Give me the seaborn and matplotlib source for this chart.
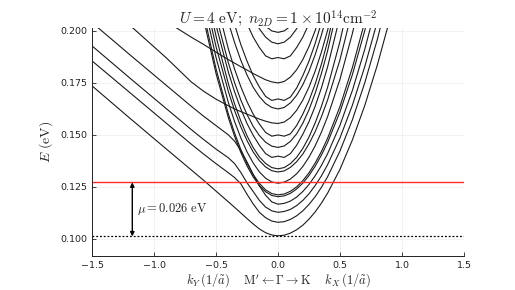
import numpy as np
import pandas as pd
import matplotlib
matplotlib.use("Agg")
import matplotlib.pyplot as plt
import seaborn as sns

# k (1/a~): negative side = k_Y (Gamma -> M'), positive side = k_X (Gamma -> K)
k_grid = [-1.5, -1.2, -0.9, -0.7, -0.6, -0.5, -0.4, -0.35, -0.3, -0.25, -0.2, -0.15, -0.1, -0.05,
          0.0, 0.05, 0.1, 0.15, 0.2, 0.25, 0.3, 0.35, 0.4, 0.5, 0.6, 0.7, 0.8, 0.9]

na = None

# energias das subbandas (eV), uma lista por banda
band_00 = [0.1736, 0.1583, 0.1432, 0.1332, 0.1282, 0.1230, 0.1178, 0.1152, 0.1125, 0.1098, 0.1072, 0.1048, 0.1030, 0.1019,
           0.1015, 0.1018, 0.1028, 0.1044, 0.1066, 0.1095, 0.1130, 0.1172, 0.1220, 0.1335, 0.1476, 0.1642, 0.1834, 0.2052]
band_01 = [0.1856, 0.1706, 0.1556, 0.1456, 0.1408, 0.1362, 0.1318, 0.1295, 0.1265, 0.1215, 0.1168, 0.1128, 0.1102, 0.1086,
           0.1080, 0.1083, 0.1094, 0.1111, 0.1135, 0.1166, 0.1203, 0.1248, 0.1299, 0.1423, 0.1573, 0.1751, 0.1957, 0.2190]
band_02 = [0.1928, 0.1776, 0.1626, 0.1526, 0.1478, 0.1432, 0.1390, 0.1362, 0.1320, 0.1270, 0.1228, 0.1185, 0.1153, 0.1135,
           0.1128, 0.1132, 0.1142, 0.1160, 0.1185, 0.1217, 0.1257, 0.1303, 0.1357, 0.1486, 0.1643, 0.1829, 0.2043, na]
band_03 = [0.2040, 0.1888, 0.1738, 0.1638, 0.1590, 0.1545, 0.1500, 0.1470, 0.1425, 0.1370, 0.1310, 0.1255, 0.1210, 0.1178,
           0.1167, 0.1171, 0.1182, 0.1201, 0.1228, 0.1262, 0.1304, 0.1353, 0.1410, 0.1547, 0.1714, 0.1912, 0.2140, na]
band_04 = [na, na, na, na, 0.2056, 0.1796, 0.1582, 0.1493, 0.1416, 0.1351, 0.1298, 0.1256, 0.1227, 0.1209,
           0.1203, 0.1207, 0.1219, 0.1240, 0.1268, 0.1305, 0.1350, 0.1403, 0.1464, 0.1611, 0.1790, 0.2002, 0.2246, na]
band_05 = [na, na, na, na, 0.2085, 0.1818, 0.1600, 0.1509, 0.1430, 0.1364, 0.1309, 0.1267, 0.1236, 0.1218,
           0.1212, 0.1216, 0.1229, 0.1250, 0.1280, 0.1318, 0.1365, 0.1420, 0.1484, 0.1637, 0.1824, 0.2045, na, na]
band_06 = [na, na, na, na, 0.2139, 0.1873, 0.1655, 0.1564, 0.1486, 0.1419, 0.1365, 0.1322, 0.1292, 0.1274,
           0.1268, 0.1273, 0.1288, 0.1313, 0.1348, 0.1393, 0.1448, 0.1513, 0.1588, 0.1768, 0.1988, 0.2248, na, na]
band_07 = [na, na, na, na, 0.2190, 0.1925, 0.1708, 0.1617, 0.1539, 0.1473, 0.1418, 0.1376, 0.1346, 0.1328,
           0.1322, 0.1327, 0.1344, 0.1371, 0.1408, 0.1457, 0.1516, 0.1587, 0.1668, 0.1862, 0.2100, na, na, na]
band_08 = [na, na, na, na, 0.2255, 0.1975, 0.1745, 0.1649, 0.1567, 0.1496, 0.1439, 0.1394, 0.1363, 0.1343,
           0.1337, 0.1343, 0.1362, 0.1392, 0.1435, 0.1490, 0.1558, 0.1637, 0.1729, 0.1950, 0.2219, na, na, na]
band_09 = [na, na, na, na, na, 0.2028, 0.1801, 0.1707, 0.1625, 0.1555, 0.1498, 0.1450, 0.1410, 0.1392,
           0.1398, 0.1392, 0.1410, 0.1450, 0.1503, 0.1564, 0.1638, 0.1726, 0.1827, 0.2070, na, na, na, na]
band_10 = [na, na, na, na, na, 0.2074, 0.1846, 0.1751, 0.1668, 0.1598, 0.1541, 0.1497, 0.1465, 0.1446,
           0.1440, 0.1447, 0.1469, 0.1505, 0.1556, 0.1621, 0.1701, 0.1795, 0.1904, 0.2165, na, na, na, na]
band_11 = [na, na, na, na, na, 0.2145, 0.1913, 0.1816, 0.1732, 0.1660, 0.1600, 0.1552, 0.1512, 0.1494,
           0.1500, 0.1494, 0.1505, 0.1545, 0.1600, 0.1665, 0.1745, 0.1840, 0.1950, 0.2220, na, na, na, na]
band_12 = [na, 0.2030, 0.1870, 0.1755, 0.1710, 0.1672, 0.1640, 0.1625, 0.1612, 0.1600, 0.1588, 0.1576, 0.1566, 0.1558,
           0.1555, 0.1562, 0.1583, 0.1618, 0.1667, 0.1730, 0.1807, 0.1898, 0.2003, 0.2255, na, na, na, na]
band_13 = [na, na, na, na, na, na, 0.2041, 0.1944, 0.1859, 0.1788, 0.1729, 0.1684, 0.1651, 0.1632,
           0.1625, 0.1632, 0.1654, 0.1690, 0.1741, 0.1806, 0.1886, 0.1980, 0.2089, na, na, na, na, na]
band_14 = [na, na, na, na, na, na, na, 0.2030, 0.1935, 0.1855, 0.1785, 0.1730, 0.1685, 0.1666,
           0.1673, 0.1666, 0.1682, 0.1725, 0.1785, 0.1855, 0.1940, 0.2040, na, na, na, na, na, na]
band_15 = [na, na, 0.2045, 0.1970, 0.1935, 0.1898, 0.1862, 0.1845, 0.1828, 0.1812, 0.1795, 0.1780, 0.1765, 0.1755,
           0.1750, 0.1757, 0.1778, 0.1813, 0.1862, 0.1925, 0.2002, 0.2093, na, na, na, na, na, na]
band_16 = [na, na, na, na, na, na, na, na, na, 0.2035, 0.1970, 0.1920, 0.1880, 0.1866,
           0.1872, 0.1866, 0.1880, 0.1920, 0.1970, 0.2035, na, na, na, na, na, na, na, na]
band_17 = [na, na, na, na, na, na, na, na, na, na, 0.2066, 0.2010, 0.1970, 0.1946,
           0.1938, 0.1946, 0.1970, 0.2010, 0.2066, na, na, na, na, na, na, na, na, na]
band_18 = [na, na, na, na, na, na, na, na, na, na, na, na, 0.2022, 0.2000,
           0.1993, 0.2000, 0.2022, na, na, na, na, na, na, na, na, na, na, na]

bands = [band_00, band_01, band_02, band_03, band_04, band_05, band_06, band_07, band_08, band_09,
         band_10, band_11, band_12, band_13, band_14, band_15, band_16, band_17, band_18]

# potencial quimico
e_bottom = 0.1012
e_fermi = 0.1272
mu_text = r"$\mu = 0.026\ \mathrm{eV}$"
arrow_k = -1.175

title = r"$U = 4\ \mathrm{eV};\ n_{2D} = 1\times 10^{14}\mathrm{cm}^{-2}$"
xlabel = r"$k_Y\,(1/\tilde{a})\quad\ \mathrm{M}'\leftarrow\Gamma\rightarrow\mathrm{K}\quad\ k_X\,(1/\tilde{a})$"
ylabel = r"$E\ (\mathrm{eV})$"
xticks = [-1.5, -1.0, -0.5, 0.0, 0.5, 1.0, 1.5]
yticks = [0.100, 0.125, 0.150, 0.175, 0.200]

rows = []
for i, vals in enumerate(bands):
    for k, e in zip(k_grid, vals):
        rows.append({"band": i, "k": k, "E": np.nan if e is None else e})
df = pd.DataFrame(rows)

sns.set_style("white")
plt.rcParams["mathtext.fontset"] = "cm"
plt.rcParams["font.family"] = ["DejaVu Sans"]

fig = plt.figure(figsize=(5.15, 2.90), dpi=100)
ax = fig.add_axes([92 / 515, 34 / 290, 372 / 515, 228 / 290])

sns.lineplot(data=df, x="k", y="E", units="band", estimator=None, sort=True,
             color="#1a1a1a", lw=0.8, legend=False, ax=ax)

ax.axhline(e_fermi, color="#ff2a2a", lw=1.0)
ax.axhline(e_bottom, color="k", lw=0.9, ls=(0, (1.5, 1.5)))
ax.annotate("", xy=(arrow_k, e_bottom), xytext=(arrow_k, e_fermi),
            arrowprops=dict(arrowstyle="<|-|>", color="k", lw=1.0, mutation_scale=6,
                            shrinkA=0, shrinkB=0))
ax.text(arrow_k + 0.04, (e_bottom + e_fermi) / 2, mu_text, fontsize=9, va="center", ha="left")

ax.set_xlim(-1.5, 1.5)
ax.set_ylim(0.0918, 0.2014)
ax.set_xticks(xticks)
ax.set_yticks(yticks)
ax.set_yticklabels([f"{v:.3f}" for v in yticks])
ax.tick_params(direction="in", length=3, width=0.6, labelsize=6.8, colors="#222222",
               left=True, bottom=True)
ax.grid(True, color="#ebebeb", lw=0.5)
ax.set_axisbelow(True)
for side in ["top", "right"]:
    ax.spines[side].set_visible(False)
for side in ["left", "bottom"]:
    ax.spines[side].set_color("#222222")
    ax.spines[side].set_linewidth(0.7)

ax.set_title(title, fontsize=11, pad=3)
ax.set_xlabel(xlabel, fontsize=9, labelpad=1)
ax.set_ylabel(ylabel, fontsize=10, labelpad=4)

fig.savefig("out.png", dpi=100)
